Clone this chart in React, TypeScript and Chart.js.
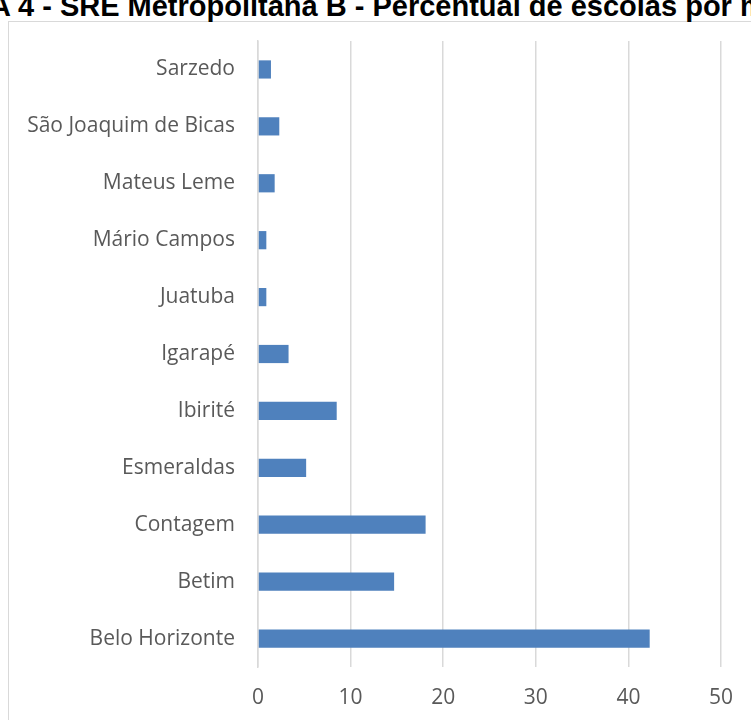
import React, { useEffect, useRef } from "react";
import { Chart, registerables } from "chart.js";

Chart.register(...registerables);

const titleHidden = "FIGURA ";
const titleVisible = "4 - SRE Metropolitana B - Percentual de escolas por município";

const municipios = [
  "Belo Horizonte",
  "Betim",
  "Contagem",
  "Esmeraldas",
  "Ibirité",
  "Igarapé",
  "Juatuba",
  "Mário Campos",
  "Mateus Leme",
  "São Joaquim de Bicas",
  "Sarzedo",
];

const percentuais = [42.3, 14.7, 18.1, 5.2, 8.5, 3.3, 0.9, 0.9, 1.8, 2.3, 1.4];

const xMin = 0;
const xMax = 50;
const xStep = 10;

const LABEL_FONT = "'Open Sans', 'Noto Sans', sans-serif";

export default function App() {
  const canvasRef = useRef<HTMLCanvasElement | null>(null);

  useEffect(() => {
    const canvas = canvasRef.current;
    if (!canvas) return;
    const chart = new Chart(canvas, {
      type: "bar",
      data: {
        labels: municipios,
        datasets: [
          {
            label: "Percentual",
            data: percentuais,
            backgroundColor: "#4f81bd",
            borderWidth: 0,
            categoryPercentage: 1,
            barPercentage: 0.32,
          },
        ],
      },
      options: {
        indexAxis: "y",
        animation: false,
        responsive: false,
        maintainAspectRatio: false,
        layout: { padding: { top: 41, right: 29, bottom: 0, left: 0 } },
        plugins: {
          legend: { display: false },
          title: { display: false },
          tooltip: { enabled: false },
        },
        scales: {
          x: {
            type: "linear",
            min: xMin,
            max: xMax,
            ticks: {
              stepSize: xStep,
              color: "#595959",
              padding: 18,
              font: { family: LABEL_FONT, size: 21 },
            },
            grid: {
              display: true,
              color: "#d9d9d9",
              lineWidth: 1.5,
              drawTicks: false,
            },
            border: { display: false },
            afterFit: (scale: any) => {
              scale.height = 53;
            },
          },
          y: {
            type: "category",
            reverse: true,
            ticks: {
              color: "#595959",
              padding: 23,
              font: { family: LABEL_FONT, size: 21 },
            },
            grid: { display: false, drawTicks: false },
            border: { display: true, color: "#d9d9d9", width: 1.5 },
            afterFit: (scale: any) => {
              scale.width = 258;
            },
          },
        },
      },
    });
    return () => chart.destroy();
  }, []);

  return (
    <div
      style={{
        position: "fixed",
        left: 0,
        top: 0,
        width: 751,
        height: 720,
        overflow: "hidden",
        background: "#ffffff",
      }}
    >
      <div
        style={{
          position: "absolute",
          left: 8,
          top: 21,
          width: 1200,
          height: 1200,
          border: "1.5px solid #d9d9d9",
          boxSizing: "border-box",
        }}
      />
      <div
        style={{
          position: "absolute",
          left: 18,
          top: -8,
          whiteSpace: "nowrap",
          fontFamily: "'Liberation Sans', Arial, sans-serif",
          fontWeight: "bold",
          fontSize: 29,
          lineHeight: "29px",
          color: "#000000",
        }}
      >
        <span style={{ position: "absolute", right: "100%", whiteSpace: "pre" }}>{titleHidden}</span>
        {titleVisible}
      </div>
      <canvas
        ref={canvasRef}
        width={751}
        height={720}
        style={{ position: "absolute", left: 0, top: 0, width: 751, height: 720 }}
      />
    </div>
  );
}
